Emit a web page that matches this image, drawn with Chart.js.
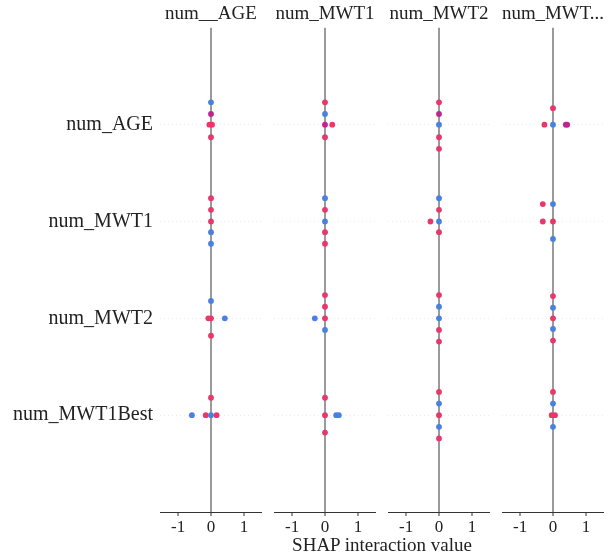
<html>
<head>
<script src="https://cdn.jsdelivr.net/npm/chart.js"></script>
<style>
  body { margin: 0; background: #fff; }
  canvas { position: absolute; top: 0; }
  #xlabel { position: absolute; left: 160px; width: 444px; top: 534px; text-align: center;
            font: 19px "Liberation Serif"; color: #222; }
</style>
</head>
<body>
<canvas id="c0" width="262" height="542" style="left:0px"></canvas>
<canvas id="c1" width="102" height="542" style="left:274px"></canvas>
<canvas id="c2" width="102" height="542" style="left:388px"></canvas>
<canvas id="c3" width="102" height="542" style="left:502px"></canvas>
<div id="xlabel">SHAP interaction value</div>

<script>
const featureNames = ["num_AGE", "num_MWT1", "num_MWT2", "num_MWT1Best"];
const panelTitles = ["num__AGE", "num_MWT1", "num_MWT2", "num_MWT..."];
const xTicks = [-1, 0, 1];

// row of each point (0 = top row), same layout in every panel
const pointRow = [0,0,0,0,0, 1,1,1,1,1, 2,2,2,2,2, 3,3,3,3,3];

// panel num__AGE
const shapAGE = [0, 0, -0.05, 0.03, 0,   0, 0, 0, 0, 0,   0, -0.08, 0, 0.42, 0,   0, -0.58, -0.16, 0, 0.17];
const jitAGE  = [0.23, 0.11, 0, 0, -0.13,   0.24, 0.12, 0, -0.11, -0.23,   0.18, 0, 0, 0, -0.18,   0.18, 0, 0, 0, 0];
const levAGE  = [0, 0.5, 1, 1, 1,   1, 1, 1, 0, 0,   0, 1, 1, 0, 1,   1, 0, 1, 0, 1];

// panel num_MWT1
const shapMWT1 = [0, 0, 0, 0.22, 0,   0, 0, 0, 0, 0,   0, 0, -0.31, 0, 0,   0, 0, 0.34, 0.42, 0];
const jitMWT1  = [0.23, 0.11, 0, 0, -0.13,   0.24, 0.12, 0, -0.11, -0.23,   0.24, 0.12, 0, 0, -0.12,   0.18, 0, 0, 0, -0.18];
const levMWT1  = [1, 0, 0.5, 1, 1,   0, 1, 0, 1, 1,   1, 1, 0, 1, 0,   1, 1, 0, 0, 1];

// panel num_MWT2
const shapMWT2 = [0, 0, 0, 0, 0,   0, 0, -0.26, 0, 0,   0, 0, 0, 0, 0,   0, 0, 0, 0, 0];
const jitMWT2  = [0.23, 0.11, 0, -0.13, -0.25,   0.24, 0.12, 0, 0, -0.11,   0.24, 0.12, 0, -0.12, -0.24,   0.24, 0.12, 0, -0.12, -0.24];
const levMWT2  = [1, 0.5, 0, 1, 1,   0, 1, 1, 0, 1,   1, 0, 0, 1, 1,   1, 0, 1, 0, 1];

// panel num_MWT1Best
const shapBest = [0, -0.26, 0, 0.39, 0.43,   -0.31, 0, -0.31, 0, 0,   0, 0, 0, 0, 0,   0, 0, -0.04, 0.06, 0];
const jitBest  = [0.17, 0, 0, 0, 0,   0.18, 0.18, 0, 0, -0.18,   0.23, 0.11, 0, -0.11, -0.23,   0.24, 0.12, 0, 0, -0.12];
const levBest  = [1, 1, 0, 0.5, 0.5,   1, 0, 1, 1, 0,   1, 0, 1, 0, 1,   1, 0, 1, 1, 0];

const panels = [
  [shapAGE, jitAGE, levAGE],
  [shapMWT1, jitMWT1, levMWT1],
  [shapMWT2, jitMWT2, levMWT2],
  [shapBest, jitBest, levBest]
];

const levelColor = { 0: "#4a80e0", 0.5: "#c0258f", 1: "#e8386b" };
const serif = "'Liberation Serif', 'Times New Roman', serif";

function makeChart(id, col) {
  const [shap, jit, lev] = panels[col];
  const n = featureNames.length;
  const pts = shap.map((v, i) => ({ x: v, y: n - pointRow[i] + jit[i] }));
  const first = col === 0;

  new Chart(document.getElementById(id), {
    type: "scatter",
    data: {
      datasets: [{
        data: pts,
        pointRadius: 2.9,
        pointBorderWidth: 0,
        pointBackgroundColor: lev.map(l => levelColor[l])
      }]
    },
    options: {
      responsive: false,
      animation: false,
      layout: { padding: 0, autoPadding: false },
      plugins: {
        legend: { display: false },
        tooltip: { enabled: false },
        title: {
          display: true,
          text: panelTitles[col],
          fullSize: false,
          color: "#222",
          font: { family: serif, size: 19, weight: "normal", lineHeight: 1.2 },
          padding: { top: 3, bottom: 2 }
        }
      },
      scales: {
        x: {
          type: "linear",
          min: -1.55,
          max: 1.55,
          afterBuildTicks: s => { s.ticks = xTicks.map(v => ({ value: v })); },
          afterFit: s => { s.height = 30; },
          ticks: {
            color: "#222",
            padding: 1,
            font: { family: serif, size: 17 },
            callback: v => String(v)
          },
          grid: {
            color: c => (c.tick && c.tick.value === 0) ? "#9a9a9a" : "rgba(0,0,0,0)",
            lineWidth: c => (c.tick && c.tick.value === 0) ? 2 : 0,
            tickColor: "#333",
            tickWidth: 1,
            tickLength: 4
          },
          border: { display: true, color: "#333", width: 1 }
        },
        y: {
          type: "linear",
          min: 0,
          max: 5,
          afterBuildTicks: s => { s.ticks = [1, 2, 3, 4].map(v => ({ value: v })); },
          afterFit: s => { s.width = first ? 160 : 0; },
          ticks: {
            display: first,
            color: "#222",
            padding: 7,
            font: { family: serif, size: 20 },
            callback: v => featureNames[n - v]
          },
          grid: {
            color: "#ebebeb",
            lineWidth: 1,
            drawTicks: false
          },
          border: { display: false, dash: [1, 3] }
        }
      }
    }
  });
}

["c0", "c1", "c2", "c3"].forEach((id, i) => makeChart(id, i));
</script>
</body>
</html>
